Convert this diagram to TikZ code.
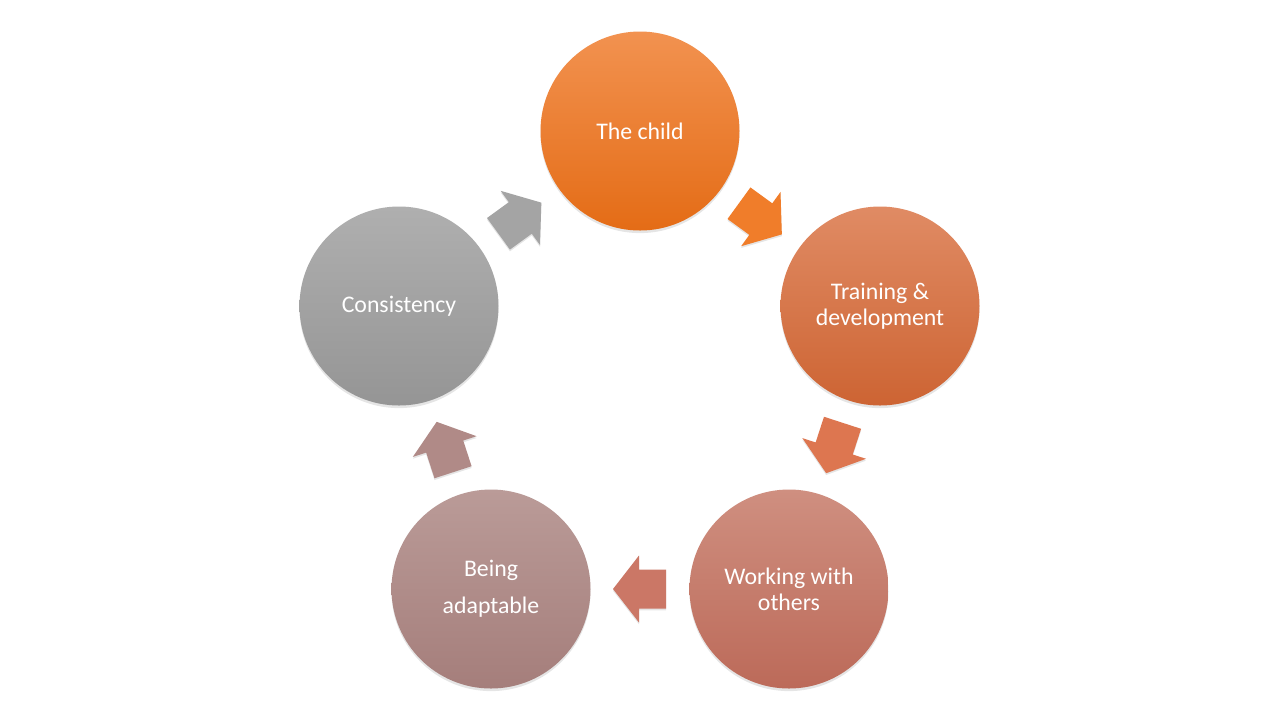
\documentclass[tikz,border=0pt]{standalone}
\usepackage{fontspec}
\setmainfont{Carlito}
\usetikzlibrary{calc}
\definecolor{ctopA}{HTML}{F29250}\definecolor{cbotA}{HTML}{E46C16}
\definecolor{ctopB}{HTML}{E08B64}\definecolor{cbotB}{HTML}{CD6433}
\definecolor{ctopC}{HTML}{CF8F80}\definecolor{cbotC}{HTML}{BC6A59}
\definecolor{ctopD}{HTML}{BA9B98}\definecolor{cbotD}{HTML}{A57E7B}
\definecolor{ctopE}{HTML}{AFAFAF}\definecolor{cbotE}{HTML}{959595}
\definecolor{arrA}{HTML}{F07D2A}
\definecolor{arrB}{HTML}{DD7650}
\definecolor{arrC}{HTML}{CB7766}
\definecolor{arrD}{HTML}{B08A87}
\definecolor{arrE}{HTML}{A4A4A4}
\tikzset{
  bubble/.style={circle, minimum size=99.5pt, inner sep=0pt, text=white,
    align=center, font=\fontsize{11.9}{13}\selectfont,
    preaction={fill=black, fill opacity=0.10, transform canvas={yshift=-1.3pt}}},
  blockarrow/.style={preaction={fill=black, fill opacity=0.10,
      transform canvas={yshift=-0.9pt}}}
}
\newcommand{\blockarr}[4]{%
  \begin{scope}[shift={($(#1)!0.5!(#2)$)}, rotate=#3]
    \fill[#4, blockarrow] (-26,-19.5) -- (1,-19.5) -- (1,-33.5) -- (27,0)
      -- (1,33.5) -- (1,19.5) -- (-26,19.5) -- cycle;
  \end{scope}}
\begin{document}
\begin{tikzpicture}[x=0.5pt, y=-0.5pt]
\useasboundingbox (0,0) rectangle (1280,720);
\fill[white] (0,0) rectangle (1280,720);
\node[bubble, top color=ctopA, bottom color=cbotA] (child) at (640,131) {The child};
\node[bubble, top color=ctopB, bottom color=cbotB] (train) at (880,306) {Training \&\\development};
\node[bubble, top color=ctopC, bottom color=cbotC] (work) at (789,589) {Working with\\others};
\node[bubble, top color=ctopD, bottom color=cbotD, font=\fontsize{11.9}{18.5}\selectfont] (adapt) at (491,589) {Being\\adaptable};
\node[bubble, top color=ctopE, bottom color=cbotE] (cons) at (399,306) {Consistency};
\blockarr{child}{train}{-36}{arrA}
\blockarr{train}{work}{-108}{arrB}
\blockarr{work}{adapt}{180}{arrC}
\blockarr{adapt}{cons}{108}{arrD}
\blockarr{cons}{child}{36}{arrE}
\end{tikzpicture}
\end{document}
